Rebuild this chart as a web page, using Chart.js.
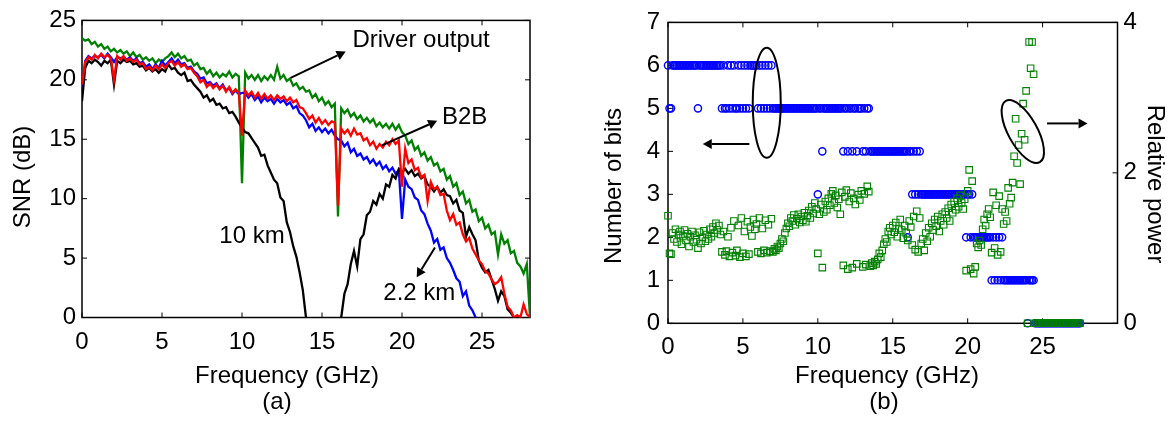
<!DOCTYPE html>
<html>
<head>
<meta charset="utf-8">
<title>SNR and bit loading</title>
<script src="https://cdn.jsdelivr.net/npm/chart.js@4.4.1/dist/chart.umd.min.js"></script>
<style>
  body { margin: 0; background: #fff; }
  .panel { position: absolute; top: 0; height: 426px; }
  #panelA { left: 0; width: 560px; }
  #panelB { left: 560px; width: 607px; }
</style>
</head>
<body>
<div class="panel" id="panelA"><canvas id="snrChart" width="560" height="426"></canvas></div>
<div class="panel" id="panelB"><canvas id="bitsChart" width="607" height="426"></canvas></div>
<script>
// ---- panel (a): SNR vs frequency, one value every 0.2 GHz ----
var freqA = [0,0.2,0.4,0.6,0.8,1,1.2,1.4,1.6,1.8,
  2,2.2,2.4,2.6,2.8,3,3.2,3.4,3.6,3.8,
  4,4.2,4.4,4.6,4.8,5,5.2,5.4,5.6,5.8,
  6,6.2,6.4,6.6,6.8,7,7.2,7.4,7.6,7.8,
  8,8.2,8.4,8.6,8.8,9,9.2,9.4,9.6,9.8,
  10,10.2,10.4,10.6,10.8,11,11.2,11.4,11.6,11.8,
  12,12.2,12.4,12.6,12.8,13,13.2,13.4,13.6,13.8,
  14,14.2,14.4,14.6,14.8,15,15.2,15.4,15.6,15.8,
  16,16.2,16.4,16.6,16.8,17,17.2,17.4,17.6,17.8,
  18,18.2,18.4,18.6,18.8,19,19.2,19.4,19.6,19.8,
  20,20.2,20.4,20.6,20.8,21,21.2,21.4,21.6,21.8,
  22,22.2,22.4,22.6,22.8,23,23.2,23.4,23.6,23.8,
  24,24.2,24.4,24.6,24.8,25,25.2,25.4,25.6,25.8,
  26,26.2,26.4,26.6,26.8,27,27.2,27.4,27.6,27.8,
  28];

var snrDriver = [23.5,23.3,23.4,23.0,23.2,22.8,23.0,22.6,22.8,22.4,
  22.6,22.3,22.5,22.2,22.4,22.0,22.3,21.9,22.1,21.7,
  21.9,21.6,21.8,21.4,21.7,21.5,21.8,22.0,22.3,21.9,
  22.2,21.8,22.0,21.6,21.7,21.2,21.4,20.9,21.0,20.5,
  20.8,20.3,20.6,20.2,20.5,20.3,20.7,20.2,20.5,20.3,
  11.3,20.6,20.1,20.4,20.0,20.4,19.9,20.3,20.0,20.4,
  20.0,21.1,20.1,20.4,19.9,20.1,19.5,19.7,19.2,19.4,
  19.0,19.1,18.5,18.8,18.2,18.5,17.9,18.2,17.7,18.0,
  8.5,17.6,17.2,17.5,16.9,17.2,16.7,17.0,16.5,16.8,
  16.4,16.7,16.1,16.4,16.0,16.3,15.9,16.3,15.8,16.2,
  15.6,15.3,14.6,14.9,14.1,14.4,13.6,13.9,13.2,13.5,
  12.8,13.0,12.3,12.5,11.6,11.9,11.0,11.3,10.3,10.6,
  9.6,9.9,8.9,9.1,8.1,8.4,7.5,7.8,7.0,7.2,
  5.3,7.0,6.2,6.5,5.4,5.6,4.6,4.3,3.7,4.5,
  0];

var snrB2B = [19.6,21.5,21.9,21.7,22.1,21.8,22.2,21.9,22.1,21.8,
  20.0,22.0,21.7,22.0,21.6,21.8,21.5,21.7,21.3,21.4,
  20.9,21.1,20.8,21.2,20.9,21.3,21.0,21.4,21.6,21.2,
  21.5,21.1,21.3,20.9,21.0,20.6,20.3,19.8,20.0,19.4,
  19.7,19.3,19.6,19.2,19.5,19.0,19.4,18.9,19.2,18.9,
  15.3,19.1,18.7,19.0,18.5,18.9,18.4,18.8,18.4,18.7,
  18.3,18.7,18.4,18.6,18.2,18.5,18.1,18.3,17.7,17.6,
  17.2,16.7,17.0,16.4,16.8,16.3,16.6,16.2,16.5,16.4,
  9.4,15.9,15.5,15.8,15.3,15.9,15.4,15.5,14.9,15.1,
  14.5,14.8,14.2,14.6,14.3,14.8,14.5,15.0,14.6,14.9,
  11.0,14.2,13.0,13.3,12.4,12.6,11.8,12.0,9.8,11.4,
  10.8,11.0,10.3,10.4,9.0,8.2,8.7,7.8,8.0,7.0,
  6.4,6.7,5.8,5.3,4.8,4.5,3.9,3.7,3.2,2.8,
  3.0,3.4,2.0,0.9,0.6,0,0.2,0,1.1,0.3,
  0];

var snr2km = [19.0,21.6,22.0,21.8,22.0,21.9,22.1,21.8,22.2,21.9,
  21.5,21.9,21.8,21.9,21.7,21.9,21.6,21.8,21.4,21.5,
  21.1,21.3,20.9,21.3,21.0,21.6,21.2,21.5,21.8,21.4,
  21.7,21.3,21.4,21.0,21.1,20.7,20.5,20.1,20.2,19.7,
  19.8,19.5,19.7,19.3,19.6,19.1,19.3,18.8,19.1,18.8,
  18.9,18.9,18.5,18.8,18.3,18.6,18.1,18.5,18.2,18.4,
  18.0,18.4,18.1,18.3,17.9,18.1,17.6,17.8,17.2,17.0,
  16.6,16.0,16.3,15.7,16.0,15.6,15.9,15.5,15.8,15.3,
  15.0,14.9,14.4,14.7,13.9,14.2,13.6,13.8,13.3,13.5,
  13.0,13.3,12.8,13.1,12.5,12.8,12.3,12.6,12.1,12.4,
  8.3,11.6,11.0,10.8,10.1,9.9,9.0,8.7,7.9,7.3,
  6.3,6.6,5.7,5.9,5.0,4.6,4.0,3.3,3.0,1.8,
  2.2,1.0,0.6,0,null,null,null,null,null,null,
  null,null,null,null,null,null,null,null,null,null,
  null];

var snr10km = [18.2,21.0,21.6,21.4,21.7,21.5,21.2,21.6,21.4,21.7,
  19.6,21.6,21.4,21.7,21.5,21.6,21.3,21.4,21.1,21.2,
  20.8,21.0,20.7,20.9,20.6,20.9,20.7,21.3,20.9,21.0,
  20.6,20.4,20.6,19.9,20.0,19.6,19.3,19.0,18.5,18.7,
  18.2,18.4,17.9,18.0,17.6,17.7,17.2,17.3,16.9,16.4,
  16.0,15.6,15.5,15.1,14.7,14.3,13.6,13.7,12.8,12.2,
  11.6,11.3,10.1,9.8,8.0,7.2,6.0,5.1,3.8,2.3,
  0,null,null,null,null,null,null,null,null,null,
  null,0,2.0,2.8,4.5,5.6,4.3,6.6,7.0,8.6,
  8.9,9.8,9.5,10.4,10.0,11.2,11.0,12.0,11.7,12.5,
  12.2,12.5,12.1,12.4,11.9,12.1,11.7,11.9,11.2,11.0,
  10.6,11.0,10.5,10.8,10.3,10.2,9.6,9.9,9.0,8.8,
  6.8,7.6,7.0,6.5,4.8,4.2,3.8,4.0,3.2,2.4,
  1.4,2.2,1.8,0.7,0.4,0,null,null,null,null,
  null];

var ticksFreqA = [0, 5, 10, 15, 20, 25];
var ticksSnr = [0, 5, 10, 15, 20, 25];

// ---- panel (b): bits and relative power per subcarrier (0.1 GHz apart) ----
var scFreq = [0,0.1,0.2,0.3,0.4,0.5,0.6,0.7,0.8,0.9,
  1,1.1,1.2,1.3,1.4,1.5,1.6,1.7,1.8,1.9,
  2,2.1,2.2,2.3,2.4,2.5,2.6,2.7,2.8,2.9,
  3,3.1,3.2,3.3,3.4,3.5,3.6,3.7,3.8,3.9,
  4,4.1,4.2,4.3,4.4,4.5,4.6,4.7,4.8,4.9,
  5,5.1,5.2,5.3,5.4,5.5,5.6,5.7,5.8,5.9,
  6,6.1,6.2,6.3,6.4,6.5,6.6,6.7,6.8,6.9,
  7,7.1,7.2,7.3,7.4,7.5,7.6,7.7,7.8,7.9,
  8,8.1,8.2,8.3,8.4,8.5,8.6,8.7,8.8,8.9,
  9,9.1,9.2,9.3,9.4,9.5,9.6,9.7,9.8,9.9,
  10,10.1,10.2,10.3,10.4,10.5,10.6,10.7,10.8,10.9,
  11,11.1,11.2,11.3,11.4,11.5,11.6,11.7,11.8,11.9,
  12,12.1,12.2,12.3,12.4,12.5,12.6,12.7,12.8,12.9,
  13,13.1,13.2,13.3,13.4,13.5,13.6,13.7,13.8,13.9,
  14,14.1,14.2,14.3,14.4,14.5,14.6,14.7,14.8,14.9,
  15,15.1,15.2,15.3,15.4,15.5,15.6,15.7,15.8,15.9,
  16,16.1,16.2,16.3,16.4,16.5,16.6,16.7,16.8,16.9,
  17,17.1,17.2,17.3,17.4,17.5,17.6,17.7,17.8,17.9,
  18,18.1,18.2,18.3,18.4,18.5,18.6,18.7,18.8,18.9,
  19,19.1,19.2,19.3,19.4,19.5,19.6,19.7,19.8,19.9,
  20,20.1,20.2,20.3,20.4,20.5,20.6,20.7,20.8,20.9,
  21,21.1,21.2,21.3,21.4,21.5,21.6,21.7,21.8,21.9,
  22,22.1,22.2,22.3,22.4,22.5,22.6,22.7,22.8,22.9,
  23,23.1,23.2,23.3,23.4,23.5,23.6,23.7,23.8,23.9,
  24,24.1,24.2,24.3,24.4,24.5,24.6,24.7,24.8,24.9,
  25,25.1,25.2,25.3,25.4,25.5,25.6,25.7,25.8,25.9,
  26,26.1,26.2,26.3,26.4,26.5,26.6,26.7,26.8,26.9,
  27,27.1,27.2,27.3,27.4,27.5];

var scBits = [6,5,5,6,6,6,6,6,6,6,
  6,6,6,6,6,6,6,6,6,6,
  5,6,6,6,6,6,6,6,6,6,
  6,6,6,6,6,6,5,6,5,5,
  6,5,6,5,6,5,5,6,5,6,
  5,6,5,6,5,6,6,6,6,6,
  5,6,5,6,5,6,5,6,5,6,
  5,5,5,5,5,5,5,5,5,5,
  5,5,5,5,5,5,5,5,5,5,
  5,5,5,5,5,5,5,5,5,5,
  3,5,5,4,5,5,5,5,5,5,
  5,5,5,5,5,5,5,4,5,5,
  4,5,5,4,5,5,4,5,5,5,
  4,5,4,5,5,4,4,4,4,4,
  4,4,4,4,4,4,4,4,4,4,
  4,4,4,4,4,4,4,4,4,4,
  2,4,4,3,4,3,4,3,4,3,
  3,3,3,3,3,3,3,3,3,3,
  3,3,3,3,3,3,3,3,3,3,
  3,3,3,3,3,3,3,3,3,2,
  3,3,2,3,2,2,2,2,2,2,
  2,2,2,2,2,2,1,2,1,2,
  1,2,1,2,1,1,1,1,1,1,
  1,1,1,1,1,1,1,1,1,1,
  0,1,1,1,1,0,0,0,0,0,
  0,0,0,0,0,0,0,0,0,0,
  0,0,0,0,0,0,0,0,0,0,
  0,0,0,0,0,0];

var scPower = [1.43,0.93,0.92,1.20,1.12,1.25,1.08,1.18,1.22,1.05,
  1.16,1.24,1.10,1.19,1.02,1.15,1.22,1.08,1.17,1.11,
  1.00,1.21,1.06,1.14,1.23,1.09,1.18,1.12,1.25,1.15,
  1.28,1.20,1.33,1.24,1.30,1.18,0.95,1.22,0.91,0.96,
  1.15,0.89,1.27,0.94,1.36,0.90,0.97,1.30,0.88,1.40,
  0.93,1.22,0.89,1.35,0.92,1.28,1.16,1.38,1.25,1.32,
  0.95,1.40,0.93,1.26,0.97,1.37,0.94,1.31,0.96,1.39,
  0.95,0.99,0.97,1.02,1.00,1.06,1.12,1.09,1.20,1.26,
  1.33,1.29,1.40,1.36,1.44,1.31,1.39,1.45,1.34,1.42,
  1.37,1.47,1.35,1.43,1.50,1.40,1.55,1.46,1.60,1.52,
  0.93,1.45,1.58,0.74,1.48,1.62,1.51,1.66,1.57,1.72,
  1.76,1.60,1.70,1.54,1.65,1.45,1.74,0.77,1.68,1.77,
  0.72,1.62,1.73,0.74,1.66,1.58,0.79,1.71,1.64,1.76,
  0.75,1.72,0.78,1.82,1.75,0.76,0.80,0.77,0.82,0.79,
  0.85,0.93,0.88,0.97,1.05,1.12,1.08,1.22,1.27,1.18,
  1.30,1.21,1.34,1.15,1.26,1.38,1.24,1.13,1.30,1.20,
  1.10,1.36,1.28,1.04,1.42,0.98,1.49,0.95,1.40,1.06,
  1.12,0.97,1.20,1.09,1.27,1.15,1.33,1.24,1.38,1.29,
  1.42,1.22,1.36,1.45,1.31,1.48,1.40,1.53,1.36,1.58,
  1.47,1.62,1.51,1.66,1.55,1.70,1.60,1.52,1.65,0.70,
  1.76,2.04,0.72,1.89,0.66,0.75,1.06,1.01,1.10,1.04,
  1.25,1.38,1.30,1.45,1.52,1.41,0.94,1.74,1.00,1.57,
  0.91,1.69,0.95,1.52,1.32,1.48,1.36,1.80,1.59,1.67,
  1.87,2.22,2.72,2.13,2.37,1.85,2.52,2.92,2.44,3.09,
  0,3.74,3.39,3.74,3.31,0,0,0,0,0,
  0,0,0,0,0,0,0,0,0,0,
  0,0,0,0,0,0,0,0,0,0,
  0,0,0,0,0,0];

var ticksFreqB = [0, 5, 10, 15, 20, 25];
var ticksBits = [0, 1, 2, 3, 4, 5, 6, 7];
var ticksPower = [0, 2, 4];

var FONT = '"Liberation Sans", Arial, Helvetica, sans-serif';
Chart.defaults.font.family = FONT;
Chart.defaults.font.size = 24;
Chart.defaults.color = '#000';

function pts(xs, ys) {
  return xs.map(function (x, i) { return { x: x, y: ys[i] }; });
}

function setTicks(list) {
  return function (scale) {
    scale.ticks = list.map(function (v) { return { value: v }; });
  };
}

// box round the plot with MATLAB style inward ticks
var framePlugin = {
  id: 'frame',
  beforeDatasetsDraw: function (chart) {
    var ctx = chart.ctx, a = chart.chartArea, s = chart.scales, t = 5;
    ctx.save();
    ctx.strokeStyle = '#000';
    ctx.lineWidth = 1.5;
    ctx.strokeRect(a.left, a.top, a.right - a.left, a.bottom - a.top);
    ctx.lineWidth = 1;
    ctx.beginPath();
    s.x.ticks.forEach(function (tk) {
      var px = s.x.getPixelForValue(tk.value);
      ctx.moveTo(px, a.bottom); ctx.lineTo(px, a.bottom - t);
      ctx.moveTo(px, a.top); ctx.lineTo(px, a.top + t);
    });
    s.y.ticks.forEach(function (tk) {
      var py = s.y.getPixelForValue(tk.value);
      ctx.moveTo(a.left, py); ctx.lineTo(a.left + t, py);
      if (!s.y1) { ctx.moveTo(a.right, py); ctx.lineTo(a.right - t, py); }
    });
    if (s.y1) {
      s.y1.ticks.forEach(function (tk) {
        var py = s.y1.getPixelForValue(tk.value);
        ctx.moveTo(a.right, py); ctx.lineTo(a.right - t, py);
      });
    }
    ctx.stroke();
    ctx.restore();
  }
};

function drawArrow(ctx, x1, y1, x2, y2) {
  var ang = Math.atan2(y2 - y1, x2 - x1), len = 9, hw = 5;
  var bx = x2 - len * Math.cos(ang), by = y2 - len * Math.sin(ang);
  ctx.beginPath(); ctx.moveTo(x1, y1); ctx.lineTo(bx, by); ctx.stroke();
  ctx.beginPath();
  ctx.moveTo(x2, y2);
  ctx.lineTo(bx + hw * Math.sin(ang), by - hw * Math.cos(ang));
  ctx.lineTo(bx - hw * Math.sin(ang), by + hw * Math.cos(ang));
  ctx.closePath(); ctx.fill();
}

// labels, arrows and ellipses; x/y in data units, titles in canvas px
function makeNotes(cfg) {
  return {
    id: 'notes',
    afterDraw: function (chart) {
      var ctx = chart.ctx, sx = chart.scales.x, sy = chart.scales.y;
      ctx.save();
      ctx.fillStyle = '#000';
      ctx.strokeStyle = '#000';
      ctx.lineWidth = 2;
      ctx.font = '24px ' + FONT;
      (cfg.ellipses || []).forEach(function (e) {
        ctx.beginPath();
        ctx.ellipse(sx.getPixelForValue(e.x), sy.getPixelForValue(e.y), e.rx, e.ry,
          e.rot * Math.PI / 180, 0, 2 * Math.PI);
        ctx.stroke();
      });
      (cfg.arrows || []).forEach(function (ar) {
        drawArrow(ctx, sx.getPixelForValue(ar.from[0]), sy.getPixelForValue(ar.from[1]),
          sx.getPixelForValue(ar.to[0]), sy.getPixelForValue(ar.to[1]));
      });
      ctx.textAlign = 'left';
      ctx.textBaseline = 'alphabetic';
      (cfg.texts || []).forEach(function (tx) {
        ctx.fillText(tx.text, sx.getPixelForValue(tx.x), sy.getPixelForValue(tx.y));
      });
      ctx.textAlign = 'center';
      ctx.textBaseline = 'middle';
      (cfg.titles || []).forEach(function (tt) {
        ctx.save();
        ctx.translate(tt.x, tt.y);
        ctx.rotate((tt.rot || 0) * Math.PI / 180);
        ctx.fillText(tt.text, 0, 0);
        ctx.restore();
      });
      ctx.restore();
    }
  };
}

var notesA = {
  texts: [
    { text: 'Driver output', x: 16.9, y: 22.8 },
    { text: 'B2B', x: 22.5, y: 16.25 },
    { text: '10 km', x: 8.58, y: 6.3 },
    { text: '2.2 km', x: 18.83, y: 1.5 }
  ],
  arrows: [
    { from: [13.04, 20.16], to: [16.48, 22.38] },
    { from: [18.74, 14.48], to: [22.2, 16.55] },
    { from: [22.06, 5.89], to: [20.92, 3.39] }
  ],
  titles: [
    { text: 'SNR (dB)', x: 23, y: 177, rot: -90 },
    { text: 'Frequency (GHz)', x: 287, y: 376 },
    { text: '(a)', x: 277, y: 402 }
  ]
};

var notesB = {
  ellipses: [
    { x: 6.59, y: 5.13, rx: 14, ry: 55, rot: 0 },
    { x: 23.68, y: 4.46, rx: 35, ry: 14.5, rot: 61 }
  ],
  arrows: [
    { from: [5.43, 4.17], to: [2.32, 4.17] },
    { from: [25.3, 4.65], to: [28.0, 4.65] }
  ],
  titles: [
    { text: 'Number of bits', x: 54, y: 186, rot: -90 },
    { text: 'Relative power', x: 595, y: 184, rot: 90 },
    { text: 'Frequency (GHz)', x: 327, y: 376 },
    { text: '(b)', x: 324, y: 402 }
  ]
};

function lineSet(label, color, ys) {
  return { label: label, data: pts(freqA, ys), borderColor: color, borderWidth: 2.3,
    pointRadius: 0, tension: 0, fill: false, spanGaps: false };
}

new Chart(document.getElementById('snrChart'), {
  type: 'line',
  data: {
    datasets: [
      lineSet('B2B', '#ff0000', snrB2B),
      lineSet('10 km', '#000000', snr10km),
      lineSet('2.2 km', '#0000ff', snr2km),
      lineSet('Driver output', '#008000', snrDriver)
    ]
  },
  options: {
    responsive: false,
    animation: false,
    layout: { padding: { top: 17, right: 30, left: 0, bottom: 0 } },
    plugins: { legend: { display: false }, tooltip: { enabled: false } },
    scales: {
      x: {
        type: 'linear', min: 0, max: 28,
        afterBuildTicks: setTicks(ticksFreqA),
        afterFit: function (s) { s.height = 108.5; },
        grid: { display: false, drawTicks: false },
        border: { display: false },
        ticks: { padding: 10, maxRotation: 0, autoSkip: false }
      },
      y: {
        min: 0, max: 25,
        afterBuildTicks: setTicks(ticksSnr),
        afterFit: function (s) { s.width = 82; },
        grid: { display: false, drawTicks: false },
        border: { display: false },
        ticks: { padding: 6 }
      }
    }
  },
  plugins: [framePlugin, makeNotes(notesA)]
});

new Chart(document.getElementById('bitsChart'), {
  type: 'scatter',
  data: {
    datasets: [
      { label: 'Relative power', data: pts(scFreq, scPower), yAxisID: 'y1',
        pointStyle: 'rect', pointRadius: 4.6, borderWidth: 1.1,
        borderColor: '#008000', backgroundColor: 'rgba(0,0,0,0)', clip: false },
      { label: 'Number of bits', data: pts(scFreq, scBits), yAxisID: 'y',
        pointStyle: 'circle', pointRadius: 3.6, borderWidth: 1.4,
        borderColor: '#0000ff', backgroundColor: 'rgba(0,0,0,0)', clip: false }
    ]
  },
  options: {
    responsive: false,
    animation: false,
    layout: { padding: { top: 20, right: 0, left: 0, bottom: 0 } },
    plugins: { legend: { display: false }, tooltip: { enabled: false } },
    scales: {
      x: {
        type: 'linear', min: 0, max: 30,
        afterBuildTicks: setTicks(ticksFreqB),
        afterFit: function (s) { s.height = 102.7; },
        grid: { display: false, drawTicks: false },
        border: { display: false },
        ticks: { padding: 10, maxRotation: 0, autoSkip: false }
      },
      y: {
        position: 'left', min: 0, max: 7,
        afterBuildTicks: setTicks(ticksBits),
        afterFit: function (s) { s.width = 108; },
        grid: { display: false, drawTicks: false },
        border: { display: false },
        ticks: { padding: 8 }
      },
      y1: {
        position: 'right', min: 0, max: 4,
        afterBuildTicks: setTicks(ticksPower),
        afterFit: function (s) { s.width = 49.5; },
        grid: { display: false, drawTicks: false },
        border: { display: false },
        ticks: { padding: 6 }
      }
    }
  },
  plugins: [framePlugin, makeNotes(notesB)]
});
</script>
</body>
</html>
